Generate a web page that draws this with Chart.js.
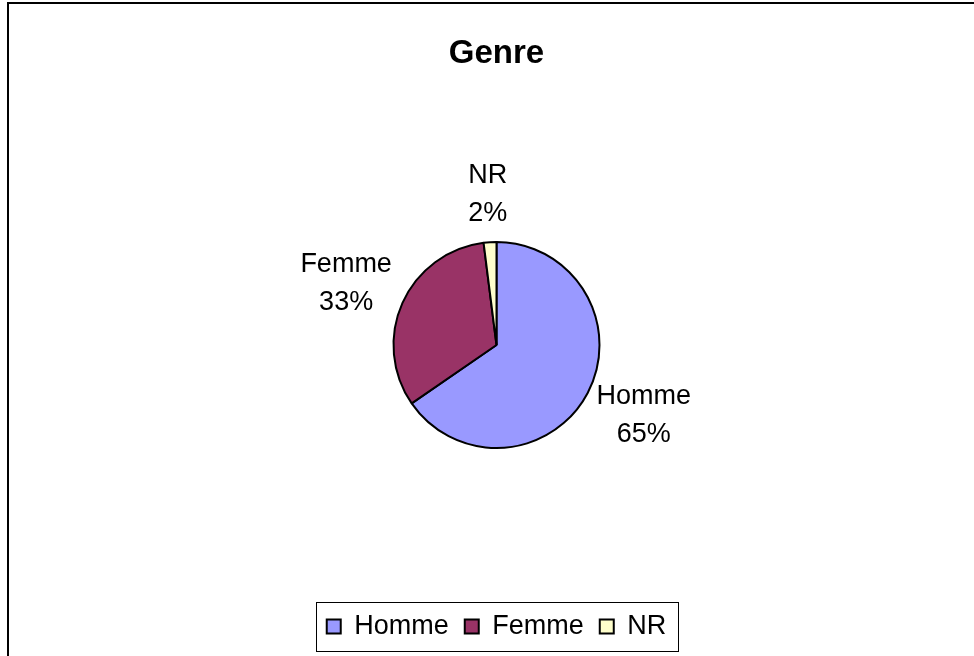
<!DOCTYPE html>
<html>
<head>
<meta charset="utf-8">
<title>Genre</title>
<script src="https://cdn.jsdelivr.net/npm/chart.js@4.4.0/dist/chart.umd.min.js"></script>
<style>
  html, body { margin: 0; padding: 0; background: #fff; }
  #wrap { position: relative; width: 974px; height: 656px; }
</style>
</head>
<body>
<div id="wrap"><canvas id="chart"></canvas></div>
<script>
const chartTitle = 'Genre';
const categories = ['Homme', 'Femme', 'NR'];
const values = [65.4, 32.6, 2.0];
const colors = ['#9999FF', '#993366', '#FFFFCC'];

const FONT = 'Arial, "Liberation Sans", sans-serif';

// cadre de la zone graphique (coupé à droite et en bas dans l'original)
const framePlugin = {
    id: 'frame',
    beforeDraw(chart) {
        const ctx = chart.ctx;
        ctx.save();
        ctx.fillStyle = '#fff';
        ctx.fillRect(0, 0, chart.width, chart.height);
        ctx.strokeStyle = '#000';
        ctx.lineWidth = 2;
        ctx.strokeRect(8, 3, chart.width + 20, chart.height + 20);
        ctx.restore();
    }
};

// étiquettes "catégorie / pourcentage" à l'extérieur des parts
const outsideLabels = {
    id: 'outsideLabels',
    afterDatasetsDraw(chart) {
        const ctx = chart.ctx;
        const meta = chart.getDatasetMeta(0);
        const data = chart.data.datasets[0].data;
        const total = data.reduce((a, b) => a + b, 0);
        const lineH = 38;
        ctx.save();
        ctx.font = '27px ' + FONT;
        ctx.fillStyle = '#000';
        ctx.textAlign = 'center';
        ctx.textBaseline = 'middle';
        meta.data.forEach((arc, i) => {
            const { x, y, startAngle, endAngle, outerRadius } =
                arc.getProps(['x', 'y', 'startAngle', 'endAngle', 'outerRadius'], true);
            const mid = (startAngle + endAngle) / 2;
            const lines = [chart.data.labels[i], Math.round(data[i] / total * 100) + '%'];
            const w = Math.max(...lines.map(t => ctx.measureText(t).width));
            const h = lineH + 26;
            const ax = x + Math.cos(mid) * (outerRadius + 16);
            const ay = y + Math.sin(mid) * (outerRadius + 16);
            const cx = ax + Math.cos(mid) * w / 2;
            const cy = ay + Math.sin(mid) * h / 2;
            ctx.fillText(lines[0], cx, cy - lineH / 2);
            ctx.fillText(lines[1], cx, cy + lineH / 2);
        });
        ctx.restore();
    }
};

// légende encadrée, sans la marge de 10px ajoutée par Chart.js
const legendBox = {
    id: 'legendBox',
    beforeInit(chart) {
        if (!chart.legend) return;
        const fit = chart.legend.fit;
        chart.legend.fit = function () {
            fit.call(this);
            this.height -= 10;
        };
    },
    afterDraw(chart) {
        const boxes = chart.legend && chart.legend.legendHitBoxes;
        if (!boxes || !boxes.length) return;
        const first = boxes[0];
        const last = boxes[boxes.length - 1];
        const ctx = chart.ctx;
        ctx.save();
        ctx.strokeStyle = '#000';
        ctx.lineWidth = 1;
        const left = Math.round(first.left - 11) + 0.5;
        const right = Math.round(last.left + last.width + 12) + 0.5;
        const top = Math.round(first.top - 11) + 0.5;
        const bottom = Math.round(first.top + first.height + 11) + 0.5;
        ctx.strokeRect(left, top, right - left, bottom - top);
        ctx.restore();
    }
};

const ctx = document.getElementById('chart').getContext('2d');
new Chart(ctx, {
    type: 'pie',
    data: {
        labels: categories,
        datasets: [{
            data: values,
            backgroundColor: colors,
            borderColor: '#000',
            borderWidth: 2,
            radius: 103
        }]
    },
    options: {
        responsive: true,
        maintainAspectRatio: false,
        animation: false,
        layout: { padding: { left: 19, right: 0, top: 0, bottom: 16 } },
        plugins: {
            title: {
                display: true,
                text: chartTitle,
                color: '#000',
                font: { family: FONT, size: 33, weight: 'bold', lineHeight: 1.2 },
                padding: { top: 34, bottom: 19.4 }
            },
            legend: {
                position: 'bottom',
                labels: {
                    color: '#000',
                    boxWidth: 14,
                    boxHeight: 14,
                    padding: 16,
                    font: { family: FONT, size: 27 }
                }
            },
            tooltip: { enabled: false }
        }
    },
    plugins: [framePlugin, outsideLabels, legendBox]
});
</script>
</body>
</html>
